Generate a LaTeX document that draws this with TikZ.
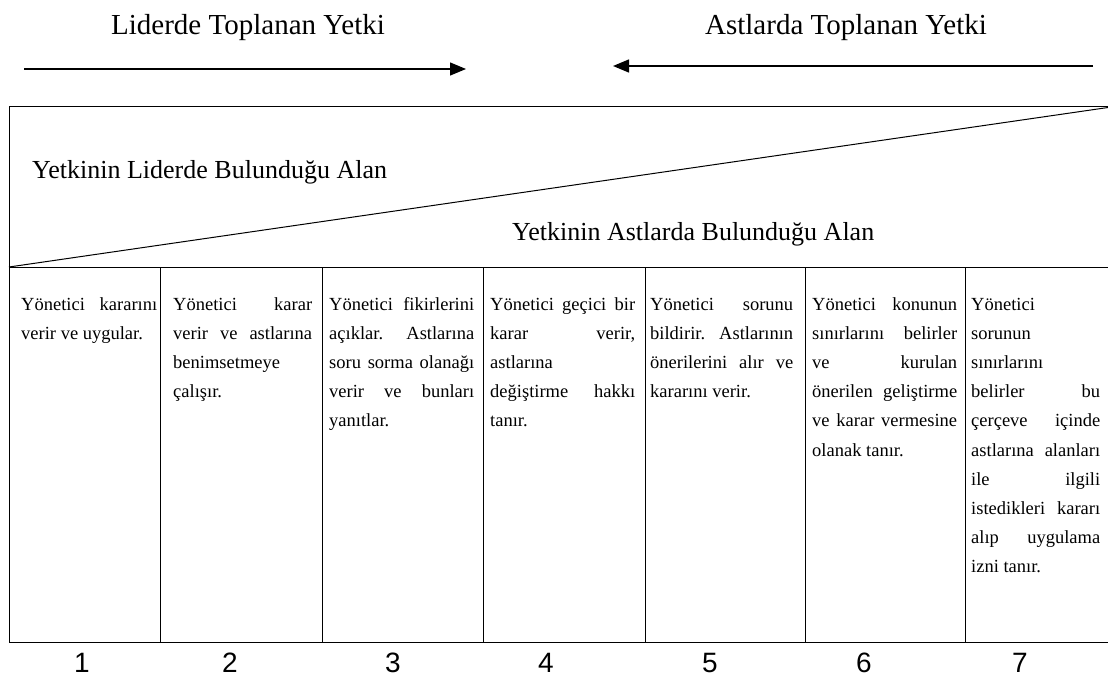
\documentclass[tikz,border=0pt]{standalone}
\usepackage{fontspec}
\setmainfont{Liberation Serif}
\newfontfamily\numfont{Liberation Sans}
\usetikzlibrary{arrows.meta}
% a justified line of a column cell
\newcommand\fillline[1]{\makebox[\linewidth][s]{#1}}
% a column cell: width, lines
\newcommand\celltext[2]{\parbox[t]{#1}{\fontsize{18.5}{29.2}\selectfont #2}}
\begin{document}
\begin{tikzpicture}[x=1pt,y=-1pt,
  frame/.style={line width=1pt},
  flow/.style={line width=1.4pt,-{Triangle[length=16pt,width=13pt]}},
  title/.style={font=\fontsize{29}{34}\selectfont,inner sep=0,anchor=base},
  zone/.style={font=\fontsize{26}{30}\selectfont,inner sep=0,anchor=base west},
  coltext/.style={inner sep=0,anchor=base west},
  colnum/.style={font=\numfont\fontsize{28}{32}\selectfont,inner sep=0,anchor=base}]
\useasboundingbox (0,0) rectangle (1108,677);

% headings and direction arrows
\node[title] (hl) at (248,35) {Liderde Toplanan Yetki};
\node[title] (hr) at (846,35) {Astlarda Toplanan Yetki};
\coordinate (la) at (24,69);
\coordinate (lb) at (466,69);
\coordinate (ra) at (1093,66);
\coordinate (rb) at (613,66);
\draw[flow] (la) -- (lb);
\draw[flow] (ra) -- (rb);

% frame with the diagonal split
\coordinate (tl) at (9,106);
\coordinate (tr) at (1108,106);
\coordinate (ml) at (9,267);
\coordinate (mr) at (1108,267);
\coordinate (dr) at (1108,107.5);
\coordinate (bl) at (9,642);
\coordinate (br) at (1108,642);
\draw[frame] (tr) -- (tl) -- (bl) -- (br);
\draw[frame] (ml) -- (mr);
\draw[frame] (ml) -- (dr);
\foreach \cx in {160,322,483,645,805,965}
  \draw[frame] (\cx,267) -- (\cx,642);

\node[zone] (zl) at (32,178) {Yetkinin Liderde Bulunduğu Alan};
\node[zone] (za) at (512,240) {Yetkinin Astlarda Bulunduğu Alan};

% column cells
\node[coltext] (c1) at (21,310) {\celltext{136pt}{%
  \fillline{Yönetici kararını}\\
  verir ve uygular.}};
\node[coltext] (c2) at (173,310) {\celltext{139pt}{%
  \fillline{Yönetici karar}\\
  \fillline{verir ve astlarına}\\
  benimsetmeye\\
  çalışır.}};
\node[coltext] (c3) at (329,310) {\celltext{145pt}{%
  \fillline{Yönetici fikirlerini}\\
  \fillline{açıklar. Astlarına}\\
  \fillline{soru sorma olanağı}\\
  \fillline{verir ve bunları}\\
  yanıtlar.}};
\node[coltext] (c4) at (490,310) {\celltext{145pt}{%
  \fillline{Yönetici geçici bir}\\
  \fillline{karar verir,}\\
  astlarına\\
  \fillline{değiştirme hakkı}\\
  tanır.}};
\node[coltext] (c5) at (650,310) {\celltext{143pt}{%
  \fillline{Yönetici sorunu}\\
  \fillline{bildirir. Astlarının}\\
  \fillline{önerilerini alır ve}\\
  kararını verir.}};
\node[coltext] (c6) at (812,310) {\celltext{145pt}{%
  \fillline{Yönetici konunun}\\
  \fillline{sınırlarını belirler}\\
  \fillline{ve kurulan}\\
  \fillline{önerilen geliştirme}\\
  \fillline{ve karar vermesine}\\
  olanak tanır.}};
\node[coltext] (c7) at (971,310) {\celltext{129pt}{%
  Yönetici\\
  sorunun\\
  sınırlarını\\
  \fillline{belirler bu}\\
  \fillline{çerçeve içinde}\\
  \fillline{astlarına alanları}\\
  \fillline{ile ilgili}\\
  \fillline{istedikleri kararı}\\
  \fillline{alıp uygulama}\\
  izni tanır.}};

% column numbers
\node[colnum] (n1) at (82,672) {1};
\node[colnum] (n2) at (230,672) {2};
\node[colnum] (n3) at (393,672) {3};
\node[colnum] (n4) at (546,672) {4};
\node[colnum] (n5) at (710,672) {5};
\node[colnum] (n6) at (864,672) {6};
\node[colnum] (n7) at (1020,672) {7};
\end{tikzpicture}
\end{document}
